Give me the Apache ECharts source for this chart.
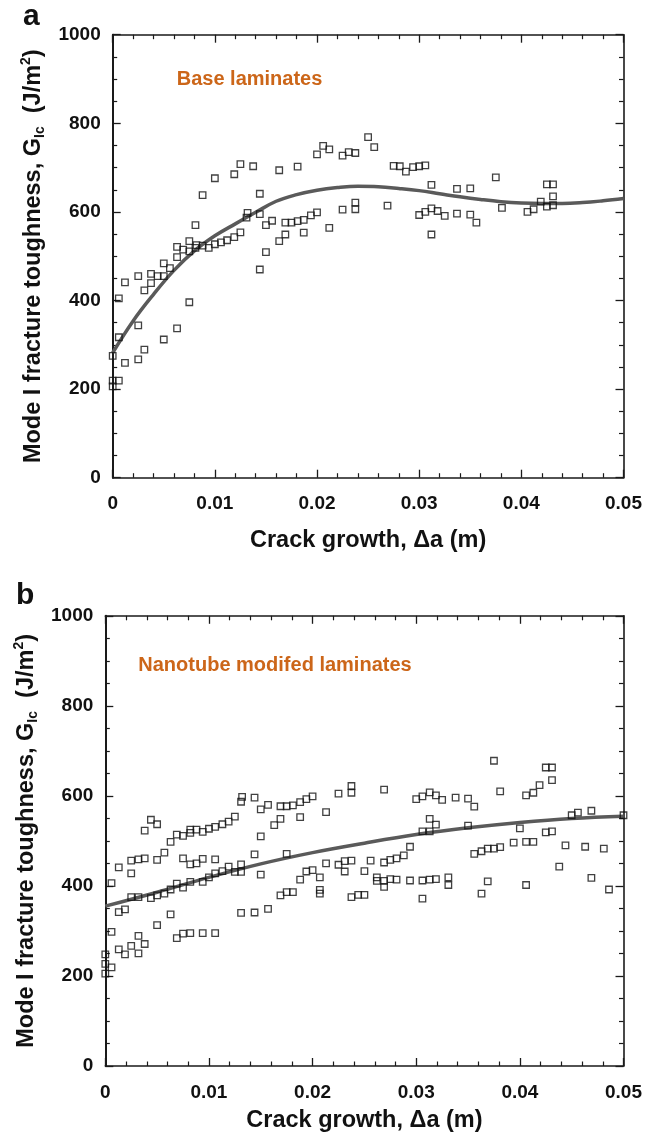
<!DOCTYPE html>
<html>
<head>
<meta charset="utf-8">
<script src="https://cdn.jsdelivr.net/npm/echarts@6.0.0/dist/echarts.min.js"></script>
<style>
  html, body { margin: 0; padding: 0; background: #fff; }
  #chart { width: 645px; height: 1134px; }
</style>
</head>
<body>
<div id="chart"></div>
<script>
// Crack growth (m) vs. G_Ic (J/m^2), base laminates
const baseData = [
  [0,275],[0,219],[0.0006,219],[0,206],[0.0006,317],[0.0006,405],[0.0012,441],[0.0012,259],
  [0.0025,455],[0.0025,344],[0.0025,267],[0.0031,423],[0.0031,289],[0.00375,460],[0.00375,439],
  [0.0044,455],[0.005,455],[0.005,484],[0.0056,473],[0.005,312],[0.0063,521],[0.0063,498],
  [0.0063,337],[0.0069,515],[0.0075,534],[0.0075,511],[0.0075,396],[0.0081,570],[0.0081,519],
  [0.0082,525],[0.0088,638],[0.0088,524],[0.0094,519],[0.01,676],[0.01,527],[0.0106,531],
  [0.0112,536],[0.0119,685],[0.0119,543],[0.0125,708],[0.0125,554],[0.0131,587],[0.0132,598],
  [0.01375,703],[0.0144,641],[0.0144,595],[0.0144,470],[0.015,570],[0.015,509],[0.0156,580],
  [0.0163,694],[0.0163,534],[0.0169,576],[0.0169,549],[0.0175,576],[0.0181,702],[0.0181,579],
  [0.0187,582],[0.0187,553],[0.0194,592],[0.02,730],[0.02,599],[0.0206,749],[0.0212,741],
  [0.0212,564],[0.0225,727],[0.0225,605],[0.0231,735],[0.02375,733],[0.02375,621],[0.02375,606],
  [0.025,769],[0.0256,746],[0.0269,614],[0.0275,704],[0.0281,703],[0.0287,691],[0.0294,701],
  [0.03,703],[0.0306,705],[0.0312,661],[0.03,593],[0.0306,600],[0.0312,608],[0.0318,602],
  [0.0325,591],[0.0312,549],[0.0337,652],[0.0337,596],[0.035,653],[0.035,594],[0.0356,576],
  [0.0375,678],[0.0381,609],[0.0406,600],[0.0412,606],[0.0419,623],[0.0425,662],[0.0425,612],
  [0.0431,662],[0.0431,635],[0.0431,615]
];

// Trend curve through the base laminate data
const baseFit = [
  [0,282],[0.002,354],[0.004,414],[0.006,468],[0.008,512],[0.01,546],[0.012,573],[0.014,599],
  [0.016,624],[0.018,639],[0.02,649],[0.022,655],[0.024,658],[0.026,657],[0.028,653],[0.03,648],
  [0.032,641],[0.034,634],[0.036,628],[0.038,623],[0.04,620],[0.042,619],[0.044,619],[0.046,621],
  [0.048,625],[0.05,630]
];

// Crack growth (m) vs. G_Ic (J/m^2), nanotube modified laminates
const nanoData = [
  [0,248],[0,227],[0,205],[0.0006,219],[0.0006,298],[0.0006,406],[0.0013,441],[0.0013,342],
  [0.0019,348],[0.0013,259],[0.0019,248],[0.0025,456],[0.0025,428],[0.0025,375],[0.0025,267],
  [0.0032,459],[0.0032,375],[0.0032,289],[0.0032,250],[0.0038,461],[0.0038,523],[0.0038,271],
  [0.0044,547],[0.0044,373],[0.005,537],[0.005,379],[0.005,313],[0.005,458],[0.0057,474],
  [0.0057,383],[0.0063,498],[0.0063,392],[0.0063,337],[0.0069,514],[0.0069,405],[0.0069,284],
  [0.0075,511],[0.0075,461],[0.0075,396],[0.0075,294],[0.0082,518],[0.0082,525],[0.0082,448],
  [0.0082,409],[0.0082,295],[0.0088,525],[0.0088,450],[0.0094,520],[0.0094,460],[0.0094,409],
  [0.0094,295],[0.01,527],[0.01,419],[0.0106,531],[0.0106,459],[0.0106,428],[0.0106,295],
  [0.0113,537],[0.0113,433],[0.0119,543],[0.0119,443],[0.0125,554],[0.0125,431],[0.0131,587],
  [0.0132,598],[0.0131,448],[0.0131,431],[0.0131,340],[0.0144,596],[0.0144,470],[0.0144,341],
  [0.015,570],[0.015,510],[0.015,425],[0.0157,580],[0.0157,349],[0.0163,535],[0.0169,549],
  [0.0169,577],[0.0169,379],[0.0175,577],[0.0175,471],[0.0175,386],[0.0181,579],[0.0181,386],
  [0.0188,586],[0.0188,553],[0.0188,414],[0.0194,593],[0.0194,432],[0.02,599],[0.02,435],
  [0.0207,419],[0.0207,391],[0.0207,383],[0.0213,450],[0.0213,564],[0.0225,605],[0.0225,447],
  [0.0231,432],[0.0231,455],[0.02375,622],[0.02375,607],[0.02375,456],[0.02375,375],[0.0244,380],
  [0.025,380],[0.025,433],[0.0256,456],[0.0262,419],[0.0262,411],[0.0269,614],[0.0269,452],
  [0.0269,411],[0.0269,398],[0.0275,458],[0.0275,415],[0.0281,461],[0.0281,414],[0.0288,468],
  [0.0294,487],[0.0294,412],[0.03,593],[0.0306,599],[0.0306,412],[0.0306,372],[0.0313,608],
  [0.0313,549],[0.0306,521],[0.0313,521],[0.0313,414],[0.0319,601],[0.0319,536],[0.0319,415],
  [0.0325,591],[0.0331,419],[0.0331,402],[0.0338,596],[0.035,594],[0.035,534],[0.0356,576],
  [0.0356,471],[0.0363,477],[0.0363,383],[0.0369,483],[0.0369,410],[0.0375,483],[0.0375,678],
  [0.0381,486],[0.0381,610],[0.0394,496],[0.04,528],[0.0406,601],[0.0406,498],[0.0406,402],
  [0.0413,498],[0.0413,607],[0.0419,624],[0.0425,663],[0.0425,519],[0.0431,663],[0.0431,635],
  [0.0431,521],[0.0438,443],[0.0444,490],[0.045,557],[0.0456,563],[0.0463,487],[0.0469,567],
  [0.0469,418],[0.0481,483],[0.0486,392],[0.05,557]
];

// Trend curve through the nanotube modified data
const nanoFit = [
  [0,355],[0.005,386],[0.01,419],[0.015,449],[0.02,474],[0.025,495],[0.03,514],[0.035,529],
  [0.04,541],[0.045,550],[0.05,555]
];

// Axis ranges and text
const xRange = { min: 0, max: 0.05, interval: 0.01 };
const yRange = { min: 0, max: 1000, interval: 200 };
const xTitle = 'Crack growth, \u0394a (m)';
const yTitle = '{t|Mode I fracture toughness, G}{s|Ic}{t|  (J/m}{p|2}{t|)}';
const panelLetters = ['a', 'b'];
const panelNotes = ['Base laminates', 'Nanotube modifed laminates'];

const FONT = '"Liberation Sans", Arial, Helvetica, sans-serif';
const INK = '#1a1a1a';
const NOTE = '#cc6619';
const TITLE_SIZE = 23.5;

const grids = [
  { left: 112.7, top: 34.7, width: 511.6, height: 443 },
  { left: 105.3, top: 615.8, width: 524.7, height: 451.8 }
];
const xNameGap = [51, 43];
const yNameGap = [61, 63];

function frameLine(w) {
  return { show: true, onZero: false, lineStyle: { color: INK, width: w } };
}
const tickIn = { show: true, inside: true, length: 8, lineStyle: { color: INK, width: 1.3 } };
const minorX = { show: true, splitNumber: 5, length: 4.5, lineStyle: { color: INK, width: 1.2 } };
const minorY = { show: true, splitNumber: 4, length: 4.5, lineStyle: { color: INK, width: 1.2 } };
const labelText = { fontFamily: FONT, fontWeight: 'bold', fontSize: 19, color: '#111' };
const plain = function (v) { return String(v); };

const xAxes = [], yAxes = [];
grids.forEach(function (g, i) {
  xAxes.push(Object.assign({
    type: 'value', gridIndex: i, position: 'bottom',
    axisLine: frameLine(1.6), axisTick: tickIn, minorTick: minorX,
    splitLine: { show: false },
    axisLabel: Object.assign({ margin: 17, formatter: plain, showMinLabel: true, showMaxLabel: true }, labelText),
    name: xTitle, nameLocation: 'middle', nameGap: xNameGap[i],
    nameTextStyle: { fontFamily: FONT, fontWeight: 'bold', fontSize: TITLE_SIZE, color: '#111' }
  }, xRange));
  xAxes.push(Object.assign({
    type: 'value', gridIndex: i, position: 'top',
    axisLine: frameLine(1.6), axisTick: tickIn, minorTick: minorX,
    splitLine: { show: false }, axisLabel: { show: false }
  }, xRange));
  yAxes.push(Object.assign({
    type: 'value', gridIndex: i, position: 'left',
    axisLine: frameLine(2), axisTick: tickIn, minorTick: minorY,
    splitLine: { show: false },
    axisLabel: Object.assign({ margin: 12, formatter: plain }, labelText),
    name: yTitle, nameLocation: 'middle', nameRotate: 90, nameGap: yNameGap[i],
    nameTextStyle: {
      rich: {
        t: { fontFamily: FONT, fontWeight: 'bold', fontSize: TITLE_SIZE, color: '#111', lineHeight: 28 },
        s: { fontFamily: FONT, fontWeight: 'bold', fontSize: 14, color: '#111', verticalAlign: 'bottom' },
        p: { fontFamily: FONT, fontWeight: 'bold', fontSize: 14, color: '#111', verticalAlign: 'top' }
      }
    }
  }, yRange));
  yAxes.push(Object.assign({
    type: 'value', gridIndex: i, position: 'right',
    axisLine: frameLine(1.6), axisTick: tickIn, minorTick: minorY,
    splitLine: { show: false }, axisLabel: { show: false }
  }, yRange));
});

function fitSeries(data, i) {
  return {
    type: 'line', data: data, xAxisIndex: 2 * i, yAxisIndex: 2 * i,
    smooth: 0.4, showSymbol: false, silent: true, z: 2,
    lineStyle: { color: '#5a5a5a', width: 3.5 }
  };
}
function pointSeries(data, i) {
  return {
    type: 'scatter', data: data, xAxisIndex: 2 * i, yAxisIndex: 2 * i,
    symbol: 'rect', symbolSize: 6.5, z: 3,
    itemStyle: { color: 'rgba(0,0,0,0)', borderColor: '#111', borderWidth: 1.3 }
  };
}

const chart = echarts.init(document.getElementById('chart'), null, { renderer: 'canvas' });
chart.setOption({
  animation: false,
  backgroundColor: '#fff',
  grid: grids,
  xAxis: xAxes,
  yAxis: yAxes,
  graphic: [
    { type: 'text', left: 23, top: 2, style: { text: panelLetters[0], font: 'bold 30px ' + FONT, fill: '#111' } },
    { type: 'text', left: 16, top: 581, style: { text: panelLetters[1], font: 'bold 30px ' + FONT, fill: '#111' } },
    { type: 'text', left: 176.7, top: 69, style: { text: panelNotes[0], font: 'bold 20px ' + FONT, fill: NOTE } },
    { type: 'text', left: 138.3, top: 655, style: { text: panelNotes[1], font: 'bold 20px ' + FONT, fill: NOTE } }
  ],
  series: [
    fitSeries(baseFit, 0), pointSeries(baseData, 0),
    fitSeries(nanoFit, 1), pointSeries(nanoData, 1)
  ]
});
</script>
</body>
</html>
